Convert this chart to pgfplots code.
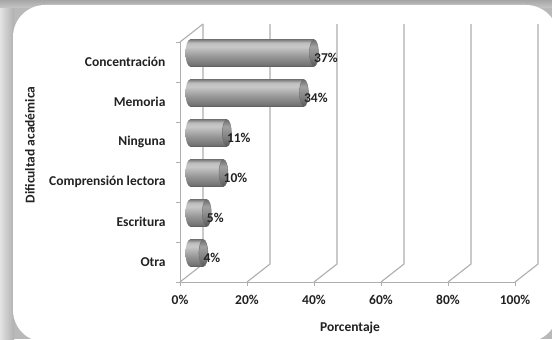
\documentclass[border=0pt]{standalone}
\usepackage{pgfplots}
\pgfplotsset{compat=1.18}
\usepackage{fontspec}
\setmainfont{Carlito}

\definecolor{txt}{HTML}{222222}
\definecolor{gridc}{HTML}{AEAEAE}
\definecolor{cylA}{HTML}{5C5C5C}
\definecolor{cylB}{HTML}{737373}
\definecolor{cylC}{HTML}{9A9A9A}
\definecolor{cylD}{HTML}{C8C8C8}
\definecolor{cylE}{HTML}{BEBEBE}
\definecolor{cylF}{HTML}{7A7A7A}
\definecolor{capA}{HTML}{555555}
\definecolor{capB}{HTML}{7C7C7C}
\definecolor{capC}{HTML}{A2A2A2}
\definecolor{capD}{HTML}{6E6E6E}

% cylinder body, bottom to top
\pgfdeclareverticalshading{cyl}{100bp}{%
  color(0bp)=(cylA); color(25bp)=(cylA); color(28bp)=(cylB);
  color(45bp)=(cylC); color(62bp)=(cylD); color(69bp)=(cylE);
  color(75bp)=(cylF); color(100bp)=(cylF)}
% right end face, bottom to top
\pgfdeclareverticalshading{capsh}{100bp}{%
  color(0bp)=(capA); color(25bp)=(capA); color(40bp)=(capB);
  color(62bp)=(capC); color(75bp)=(capD); color(100bp)=(capD)}

% left end of a cylinder: shaded like the body
\pgfdeclareplotmark{cylstart}{%
  \pgfpathellipse{\pgfpointorigin}{\pgfpoint{4.5bp}{0pt}}{\pgfpoint{0pt}{13.5bp}}%
  \pgfshadepath{cyl}{0}\pgfusepath{discard}}
% right end of a cylinder
\pgfdeclareplotmark{cylend}{%
  \pgfpathellipse{\pgfpointorigin}{\pgfpoint{4.5bp}{0pt}}{\pgfpoint{0pt}{13.5bp}}%
  \pgfshadepath{capsh}{0}\pgfusepath{discard}%
  \pgfpathellipse{\pgfpointorigin}{\pgfpoint{4.5bp}{0pt}}{\pgfpoint{0pt}{13.5bp}}%
  \pgfusepathqstroke}

\newcommand\lbl{\fontsize{13.5bp}{16bp}\selectfont\bfseries}

% back wall gridline of a value plus its floor diagonal
\newcommand\wall[1]{%
  \draw[gridc, line width=1.1bp] (axis cs:#1,-0.5) -- ([shift={(23bp,18bp)}]axis cs:#1,-0.5)
    -- ([shift={(23bp,18bp)}]axis cs:#1,5.5);}
% category separator tick on the front axis
\newcommand\sep[1]{\draw[gridc, line width=0.8bp] (axis cs:0,#1) -- ([xshift=-4bp]axis cs:0,#1);}

\begin{document}
\begin{tikzpicture}[x=1bp,y=1bp]
\useasboundingbox (0,0) rectangle (552,339);
\begin{scope}
  \clip (0,0) rectangle (552,339);
  \fill[gray!55] (0,0) rectangle (552,339);
  \shade[left color=gray!22, right color=gray!62] (0,0) rectangle (14,339);
  \shade[top color=gray!70, bottom color=gray!45] (0,331) rectangle (552,339);
  \fill[white, rounded corners=32bp] (13,-3) rectangle (558,334);
\end{scope}

\begin{axis}[
  at={(180bp,57bp)}, anchor=south west,
  width=335bp, height=240bp, scale only axis,
  xmin=0, xmax=100, ymin=-0.5, ymax=5.5,
  clip=false,
  axis line style={draw=none},
  xtick={0,20,40,60,80,100},
  xticklabels={0\%,20\%,40\%,60\%,80\%,100\%},
  xtick pos=bottom, tick align=outside,
  major tick length=4bp,
  xtick style={draw=gridc, line width=0.8bp},
  ytick={0,1,2,3,4,5},
  yticklabels={Otra,Escritura,Comprensión lectora,Ninguna,Memoria,Concentración},
  ytick style={draw=none},
  ytick pos=left,
  tick label style={font=\lbl, text=txt},
  xticklabel style={yshift=-6bp},
  yticklabel style={xshift=-7bp},
  xlabel={Porcentaje}, ylabel={Dificultad académica},
  every axis x label/.style={at={(rel axis cs:0.5075,-0.1917)}, anchor=center, font=\lbl, text=txt},
  every axis y label/.style={at={(rel axis cs:-0.4478,0.5708)}, anchor=center, rotate=90, font=\lbl, text=txt},
]
  % walls and floor
  \wall{0}\wall{20}\wall{40}\wall{60}\wall{80}\wall{100}
  \draw[gridc, line width=1.1bp] (axis cs:0,5.5) -- ([shift={(23bp,18bp)}]axis cs:0,5.5);
  \draw[gridc, line width=1bp] (axis cs:0,5.5) -- (axis cs:0,-0.5) -- (axis cs:100,-0.5);
  \sep{-0.5}\sep{0.5}\sep{1.5}\sep{2.5}\sep{3.5}\sep{4.5}\sep{5.5}

  % left ends
  \addplot[only marks, mark=cylstart, xshift=10bp, yshift=9bp]
    coordinates {(0,5) (0,4) (0,3) (0,2) (0,1) (0,0)};

  % cylinder bodies
  \addplot[xbar, bar shift=0pt, bar width=27bp, draw=none, shade, shading=cyl, xshift=10bp, yshift=9bp] coordinates {(37,5)};
  \addplot[xbar, bar shift=0pt, bar width=27bp, draw=none, shade, shading=cyl, xshift=10bp, yshift=9bp] coordinates {(34,4)};
  \addplot[xbar, bar shift=0pt, bar width=27bp, draw=none, shade, shading=cyl, xshift=10bp, yshift=9bp] coordinates {(11,3)};
  \addplot[xbar, bar shift=0pt, bar width=27bp, draw=none, shade, shading=cyl, xshift=10bp, yshift=9bp] coordinates {(10,2)};
  \addplot[xbar, bar shift=0pt, bar width=27bp, draw=none, shade, shading=cyl, xshift=10bp, yshift=9bp] coordinates {(5,1)};
  \addplot[xbar, bar shift=0pt, bar width=27bp, draw=none, shade, shading=cyl, xshift=10bp, yshift=9bp] coordinates {(4,0)};

  % right ends with values
  \addplot[only marks, mark=cylend, xshift=10bp, yshift=9bp,
    mark options={draw=capD, line width=0.4bp},
    point meta=explicit symbolic,
    nodes near coords={\pgfplotspointmeta\%},
    every node near coord/.style={anchor=west, xshift=0bp, yshift=-5bp, inner sep=0pt, font=\lbl, text=txt}]
    coordinates {(37,5) [37] (34,4) [34] (11,3) [11] (10,2) [10] (5,1) [5] (4,0) [4]};
\end{axis}
\end{tikzpicture}
\end{document}
